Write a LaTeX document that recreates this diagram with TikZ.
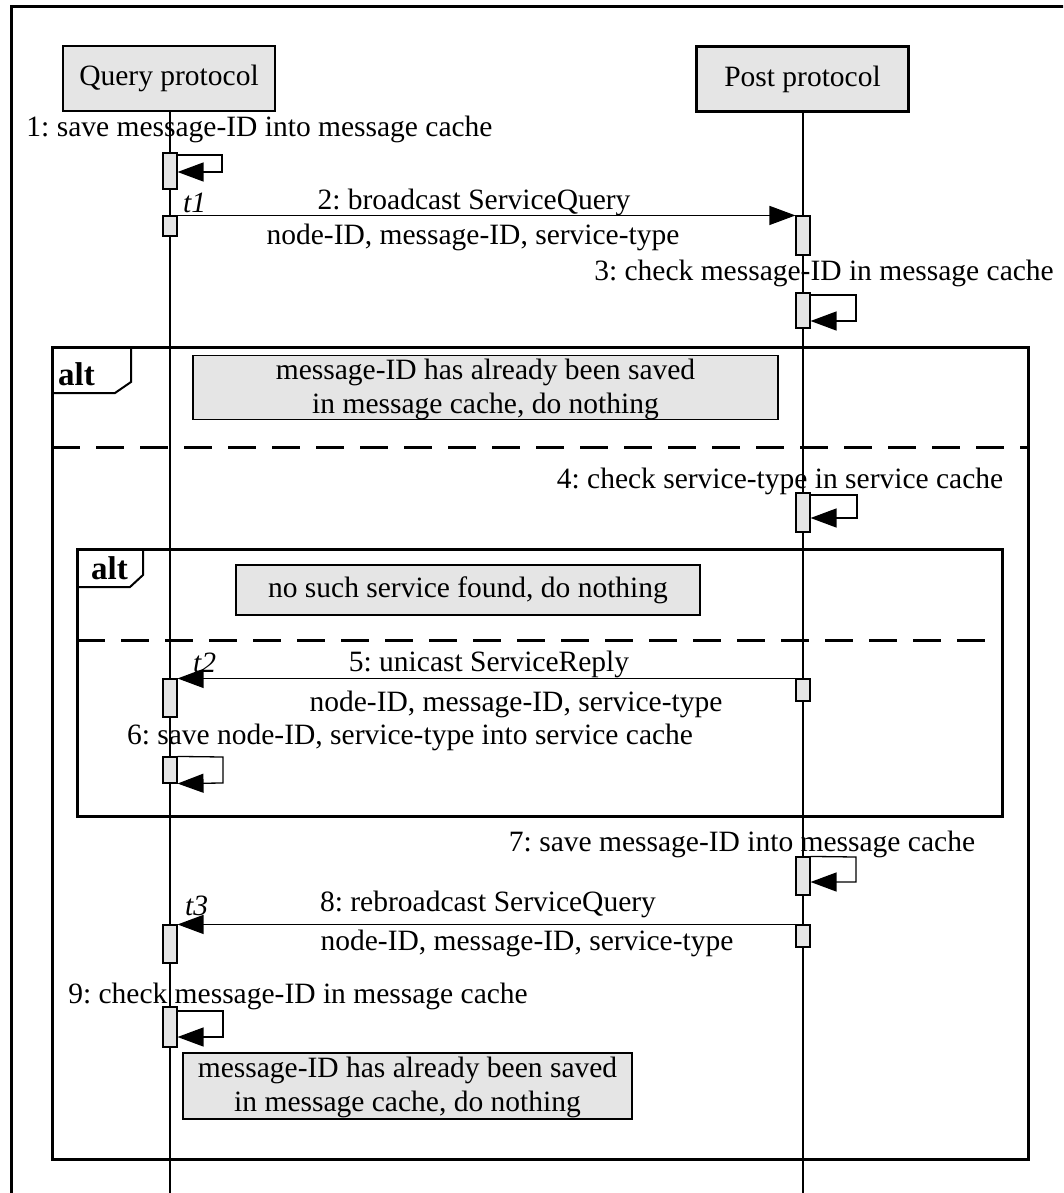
\documentclass[tikz,border=0pt]{standalone}
\usepackage{fontspec}
\setmainfont{Liberation Serif}
\usetikzlibrary{arrows.meta}
\frenchspacing
\newcommand{\firstheight}{\rule{0pt}{24pt}}
\begin{document}
\begin{tikzpicture}[x=1pt,y=-1pt,
  txt/.style={font=\fontsize{29.5}{34}\selectfont, inner sep=0pt},
  head/.style={txt, draw, line width=2.6pt, fill=gray!20, minimum width=212pt, minimum height=65pt},
  lifeline/.style={line width=1.1pt},
  act/.style={draw, line width=1.1pt, fill=gray!20, minimum width=14pt, inner sep=0pt},
  msg/.style={line width=1.3pt, -{Triangle[length=26pt,width=19pt]}},
  note/.style={txt, draw, line width=1.1pt, fill=gray!20, align=center},
  frame/.style={line width=3pt},
  tagline/.style={line width=2pt},
  sep/.style={line width=3pt, dash pattern=on 28pt off 16pt},
  opname/.style={font=\fontsize{33}{36}\selectfont\bfseries, inner sep=0pt, anchor=base},
  tlabel/.style={font=\fontsize{29.5}{34}\selectfont\itshape, inner sep=0pt, anchor=base west}]
\useasboundingbox (0,0) rectangle (1063,1193);
\clip (0,0) rectangle (1063,1193);

% outer frame
\draw[frame] (11.5,1200) -- (11.5,6.5) -- (1070,6.5);

% lifeline heads
\node[head] (qp) at (169,78.5) {Query protocol};
\node[head] (pp) at (802.5,79) {Post protocol};
\coordinate (qend) at (170,1200);
\coordinate (pend) at (803,1200);
\draw[lifeline] (qp.south -| qend) -- (qend);
\draw[lifeline] (pp.south -| pend) -- (pend);

% combined fragments
\draw[frame] (52,347) rectangle (1028,1159);
\draw[tagline] (52,393) -- (115,393) -- (131,382) -- (131,347);
\node[opname] (alt1) at (76.5,385) {alt};
\draw[sep] (52,447) -- (1028,447);

\draw[frame] (77,549) rectangle (1002,816);
\draw[tagline] (77,587) -- (130,587) -- (143,575) -- (143,549);
\node[opname] (alt2) at (109.5,579) {alt};
\draw[sep] (77,640) -- (1002,640);

% activations on the query lifeline
\node[act, minimum height=36pt] (aq1) at (170,171) {};
\node[act, minimum height=20pt] (aq2) at (170,226) {};
\node[act, minimum height=38pt] (aq5) at (170,698) {};
\node[act, minimum height=26pt] (aq6) at (170,770) {};
\node[act, minimum height=38pt] (aq8) at (170,944) {};
\node[act, minimum height=40pt] (aq9) at (170,1027) {};
% activations on the post lifeline
\node[act, minimum height=39pt] (ap2) at (803,235.5) {};
\node[act, minimum height=35pt] (ap3) at (803,310.5) {};
\node[act, minimum height=39pt] (ap4) at (803,512.5) {};
\node[act, minimum height=22pt] (ap5) at (803,690) {};
\node[act, minimum height=38pt] (ap7) at (803,876) {};
\node[act, minimum height=22pt] (ap8) at (803,936) {};

% 1: self call
\node[txt, anchor=base] (l1) at (259.5,137) {1: save message-ID into message cache};
\draw[msg] (aq1.east |- 0,155) -- (222,155) -- (222,172) -- (aq1.east |- 0,172);

% 2: broadcast
\node[tlabel] (t1) at (183,212) {t1};
\draw[msg] (aq2.north east) -- (ap2.north west);
\node[txt, anchor=base] (l2a) at (474,209) {2: broadcast ServiceQuery};
\node[txt, anchor=base] (l2b) at (473,244) {node-ID, message-ID, service-type};

% 3: self call
\node[txt, anchor=base] (l3) at (824,280) {3: check message-ID in message cache};
\draw[msg] (ap3.east |- 0,295) -- (856,295) -- (856,321) -- (ap3.east |- 0,321);

\node[note, minimum width=585pt, minimum height=63pt] (n1) at (485.5,387.5)
  {\firstheight message-ID has already been saved\\in message cache, do nothing};

% 4: self call
\node[txt, anchor=base] (l4) at (780,488) {4: check service-type in service cache};
\draw[msg] (ap4.east |- 0,495) -- (857,495) -- (857,518) -- (ap4.east |- 0,518);

\node[note, minimum width=464pt, minimum height=50pt] (n2) at (468,590)
  {no such service found, do nothing};

% 5: unicast reply
\draw[msg] (ap5.north west) -- (aq5.north east);
\node[tlabel] (t2) at (193,672) {t2};
\node[txt, anchor=base] (l5a) at (489,671) {5: unicast ServiceReply};
\node[txt, anchor=base] (l5b) at (516,711) {node-ID, message-ID, service-type};

% 6: self call
\node[txt, anchor=base] (l6) at (410,744) {6: save node-ID, service-type into service cache};
\draw[msg] (aq6.north east) -- (223,757) -- (223,783) -- (aq6.south east);

% 7: self call
\node[txt, anchor=base] (l7) at (742,851) {7: save message-ID into message cache};
\draw[msg] (ap7.north east) -- (856,857) -- (856,882) -- (ap7.east |- 0,882);

% 8: rebroadcast
\draw[msg] (ap8.north west) -- (aq8.north east);
\node[tlabel] (t3) at (185,915) {t3};
\node[txt, anchor=base] (l8a) at (488,911) {8: rebroadcast ServiceQuery};
\node[txt, anchor=base] (l8b) at (527,950) {node-ID, message-ID, service-type};

% 9: self call
\node[txt, anchor=base] (l9) at (298,1003) {9: check message-ID in message cache};
\draw[msg] (aq9.east |- 0,1011) -- (223,1011) -- (223,1037) -- (aq9.east |- 0,1037);

\node[note, minimum width=449pt, minimum height=66pt] (n3) at (407.5,1086)
  {\firstheight message-ID has already been saved\\in message cache, do nothing};
\end{tikzpicture}
\end{document}
